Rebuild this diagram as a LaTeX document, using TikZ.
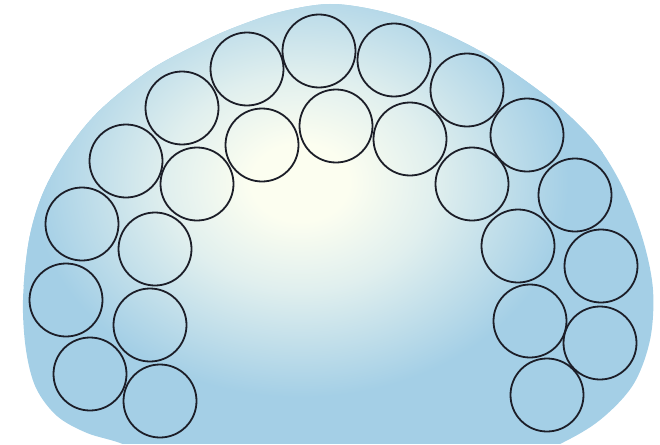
\documentclass[tikz,border=0pt]{standalone}
\definecolor{blobblue}{RGB}{164,207,230}
\definecolor{blobwhite}{RGB}{252,254,240}
\definecolor{blobmid}{RGB}{224,239,238}
\definecolor{ringcol}{RGB}{28,30,40}
\pgfdeclareradialshading{blobshade}{\pgfpoint{0bp}{0bp}}{%
  color(0bp)=(blobwhite); color(4bp)=(blobwhite); color(11bp)=(blobmid);
  color(22bp)=(blobblue); color(50bp)=(blobblue)}
\begin{document}
\begin{tikzpicture}[x=1pt,y=-1pt,
  ring/.style={circle,draw=ringcol,line width=1.8pt,minimum size=73pt,inner sep=0pt}]
\useasboundingbox (0,0) rectangle (660,444);
\begin{scope}
\clip (0,0) rectangle (660,444);
\clip plot[smooth cycle, tension=0.55] coordinates {
 (330,4) (380,11) (430,27) (480,51) (523,79) (563,110) (597,145) (623,188)
 (643,240) (653,290) (650,340) (633,385) (600,420) (560,444) (500,470)
 (170,470) (125,445) (87,433) (57,416) (36,388) (26,350) (23,300) (29,240)
 (43,193) (67,150) (100,110) (150,70) (200,43) (233,28) (280,12)};
\fill[blobblue] (0,0) rectangle (660,444);
\shade[shading=blobshade, yscale=0.8] (300,228) circle (305);
\end{scope}
% outer arch
\node[ring] (o1) at (90,374) {};
\node[ring] (o2) at (66,300) {};
\node[ring] (o3) at (82,224) {};
\node[ring] (o4) at (126,161) {};
\node[ring] (o5) at (182,108) {};
\node[ring] (o6) at (247,69) {};
\node[ring] (o7) at (319,51) {};
\node[ring] (o8) at (394,60) {};
\node[ring] (o9) at (467,90) {};
\node[ring] (o10) at (527,135) {};
\node[ring] (o11) at (575,195) {};
\node[ring] (o12) at (601,266) {};
\node[ring] (o13) at (600,343) {};
\node[ring] (o14) at (547,395) {};
% inner arch
\node[ring] (i1) at (160,401) {};
\node[ring] (i2) at (150,325) {};
\node[ring] (i3) at (155,249) {};
\node[ring] (i4) at (197,184) {};
\node[ring] (i5) at (262,145) {};
\node[ring] (i6) at (336,126) {};
\node[ring] (i7) at (410,139) {};
\node[ring] (i8) at (472,184) {};
\node[ring] (i9) at (518,246) {};
\node[ring] (i10) at (530,321) {};
\end{tikzpicture}
\end{document}
